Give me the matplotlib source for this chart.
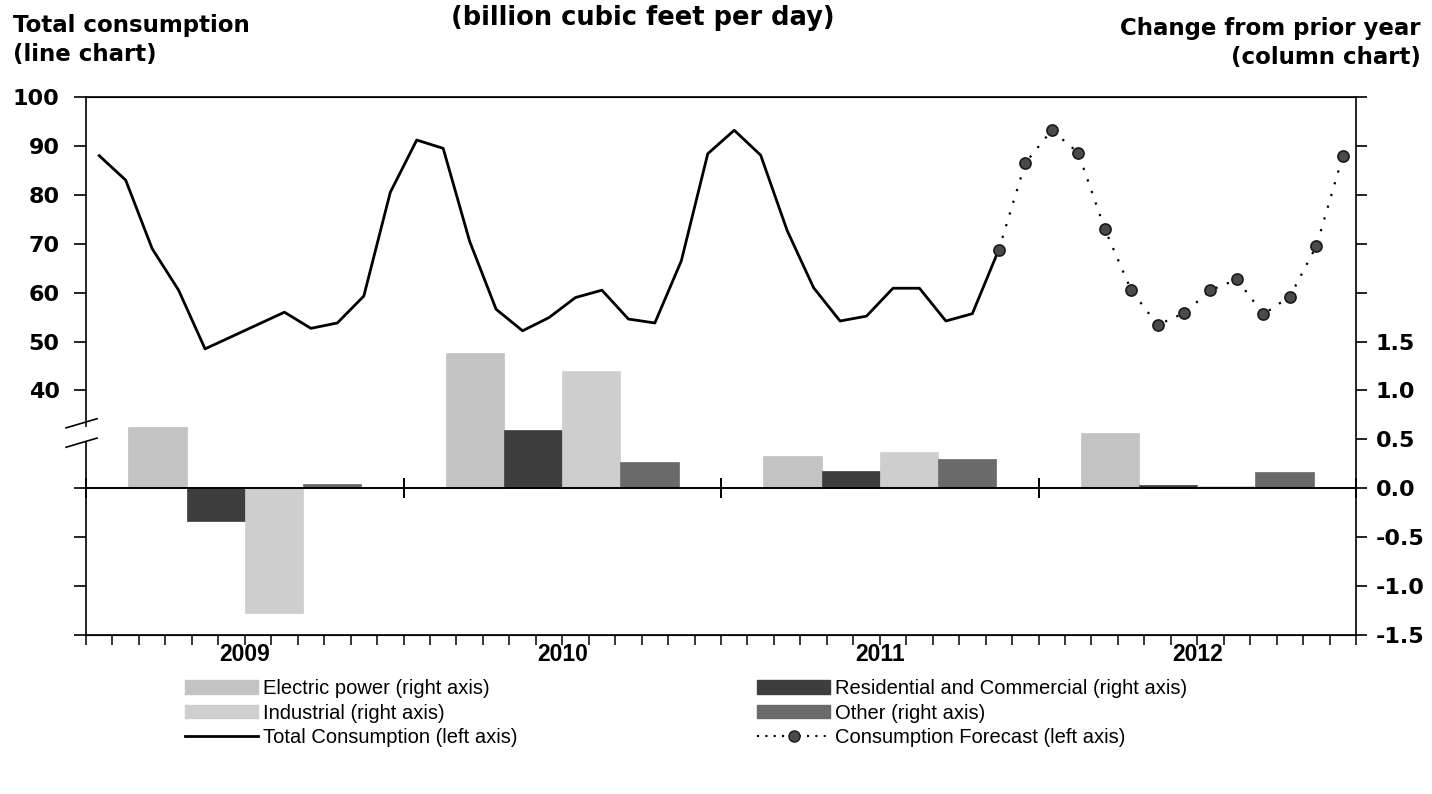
import numpy as np
import matplotlib
matplotlib.use("Agg")
import matplotlib.pyplot as plt
from matplotlib.patches import Patch
from matplotlib.lines import Line2D

# =======================
# DATA
# =======================
YEARS = ["2009", "2010", "2011", "2012"]

# monthly total consumption, Jan 2009 - Nov 2011 (bcf/d)
total_consumption = [88, 83, 69, 60.5, 48.5, 51, 53.5, 56, 52.7, 53.8, 59.3, 80.5,
                     91.2, 89.5, 70.5, 56.6, 52.2, 54.9, 59, 60.5, 54.6, 53.8, 66.5, 88.4,
                     93.2, 88.1, 72.7, 61, 54.2, 55.2, 60.9, 60.9, 54.2, 55.7, 68.8]

# forecast, Nov 2011 - Dec 2012
forecast = [68.8, 86.5, 93.2, 88.6, 73.1, 60.5, 53.4, 55.8, 60.5, 62.7, 55.6, 59.2, 69.5, 87.9]

# change from prior year, by year (right axis)
electric = [0.63, 1.38, 0.33, 0.56]
res_comm = [-0.33, 0.60, 0.18, 0.03]
industrial = [-1.27, 1.20, 0.37, 0.02]
other = [0.04, 0.27, 0.30, 0.17]

LEFT_TICKS = [-10, 0, 10, 20, 40, 50, 60, 70, 80, 90, 100]

# =======================
# STYLE
# =======================
C_ELEC = "#c3c3c3"
C_IND = "#cecece"
C_RES = "#3e3e3e"
C_OTH = "#6a6a6a"
NARROW = ["Liberation Sans Narrow", "Liberation Sans", "DejaVu Sans"]
plt.rcParams["font.family"] = ["DejaVu Sans"]

fig = plt.figure(figsize=(14.32, 7.94), dpi=100)
ax = fig.add_axes([86 / 1432, 1 - 635 / 794, 1270 / 1432, 538 / 794])
ax2 = ax.twinx()

n_months = 12 * len(YEARS)
months = np.arange(len(total_consumption)) + 0.5
f_months = np.arange(len(total_consumption) - 1, n_months) + 0.5

# bars on right axis
centers = np.arange(len(YEARS)) * 12 + 6
bw = 2.2
for k, (vals, col) in enumerate([(electric, C_ELEC), (res_comm, C_RES),
                                  (industrial, C_IND), (other, C_OTH)]):
    ax2.bar(centers + (k - 1.5) * bw, vals, width=bw, color=col, edgecolor=col, lw=0.5)

# lines on left axis
ax.plot(months, total_consumption, color="black", lw=2.0)
ax.plot(f_months, forecast, color="black", lw=1.6, linestyle=(0, (1, 4.5)),
        marker="o", markersize=8, markerfacecolor="#4a4a4a", markeredgecolor="#1a1a1a",
        markeredgewidth=1.2)
ax.set_zorder(ax2.get_zorder() + 1)
ax.patch.set_visible(False)

# axes limits (left = 20 + 20 * right)
ax.set_xlim(0, n_months)
ax.set_ylim(-10, 100)
ax2.set_ylim(-1.5, 4.0)

# left ticks
ax.set_yticks(LEFT_TICKS)
ax.set_yticklabels([str(v) if v >= 40 else "" for v in LEFT_TICKS])
ax.tick_params(axis="y", direction="out", length=9, width=1.2, pad=10, labelsize=16)

# right ticks
rt = np.arange(-1.5, 4.01, 0.5)
ax2.set_yticks(rt)
ax2.set_yticklabels([f"{v:.1f}" if v <= 1.5 else "" for v in rt])
ax2.tick_params(axis="y", direction="out", length=8, width=1.2, pad=6, labelsize=16)
for lab in ax.get_yticklabels() + ax2.get_yticklabels():
    lab.set_fontweight("bold")

# x ticks: month marks and year labels
ax.xaxis.remove_overlapping_locs = False
ax.set_xticks(np.arange(0, n_months + 1))
ax.set_xticklabels([])
ax.tick_params(axis="x", which="major", direction="out", length=7, width=1.1)
ax.set_xticks(centers, minor=True)
ax.set_xticklabels(YEARS, minor=True, fontsize=16.5, fontweight="bold", family=NARROW)
ax.tick_params(axis="x", which="minor", length=0, pad=6)
ax2.tick_params(axis="x", length=0)

# spines
for sp in ["top", "bottom", "right"]:
    ax2.spines[sp].set_linewidth(1.2)
ax2.spines["left"].set_visible(False)
ax.spines["right"].set_visible(False)
ax.spines["left"].set_bounds(32.8, 100)
ax.spines["left"].set_linewidth(1.2)
ax.axvline(0, ymin=0, ymax=0.359, color="black", lw=1.2, clip_on=False)

# axis break marks
for y0 in (0.385, 0.349):
    ax.plot([-0.0157, 0.0087], [y0, y0 + 0.017], transform=ax.transAxes,
            color="black", lw=1.2, clip_on=False)

# zero line with year dividers
ax2.axhline(0, color="black", lw=1.4)
ax2.plot(np.arange(0, n_months + 1, 12), np.zeros(len(YEARS) + 1), linestyle="none",
         marker="|", markersize=15, markeredgewidth=1.4, color="black", clip_on=False)

# titles
fig.text(0.449, 1 - 25 / 794, "(billion cubic feet per day)", ha="center", va="baseline",
         fontsize=18.5, fontweight="bold")
fig.text(13 / 1432, 1 - 32 / 794, "Total consumption", ha="left", va="baseline",
         fontsize=16.5, fontweight="bold")
fig.text(13 / 1432, 1 - 61 / 794, "(line chart)", ha="left", va="baseline",
         fontsize=16.5, fontweight="bold")
fig.text(1421 / 1432, 1 - 35 / 794, "Change from prior year", ha="right", va="baseline",
         fontsize=16.5, fontweight="bold")
fig.text(1421 / 1432, 1 - 64 / 794, "(column chart)", ha="right", va="baseline",
         fontsize=16.5, fontweight="bold")

# legend
handles = [
    Patch(facecolor=C_ELEC, edgecolor=C_ELEC),
    Patch(facecolor=C_IND, edgecolor=C_IND),
    Line2D([], [], color="black", lw=2),
    Patch(facecolor=C_RES, edgecolor=C_RES),
    Patch(facecolor=C_OTH, edgecolor=C_OTH),
    Line2D([], [], color="black", lw=1.5, linestyle=(0, (1, 3)), marker="o",
           markersize=8, markerfacecolor="#4a4a4a", markeredgecolor="#1a1a1a"),
]
labels = ["Electric power (right axis)", "Industrial (right axis)",
          "Total Consumption (left axis)", "Residential and Commercial (right axis)",
          "Other (right axis)", "Consumption Forecast (left axis)"]
fig.legend(handles, labels, ncol=2, loc="upper left",
           bbox_to_anchor=(185 / 1432, 1 - 679 / 794), frameon=False,
           prop={"family": NARROW, "size": 14.5}, handlelength=3.63, handleheight=0.65,
           handletextpad=0.25, labelspacing=0.28, columnspacing=11.9, borderpad=0,
           borderaxespad=0)

fig.savefig("out.png", dpi=100)
